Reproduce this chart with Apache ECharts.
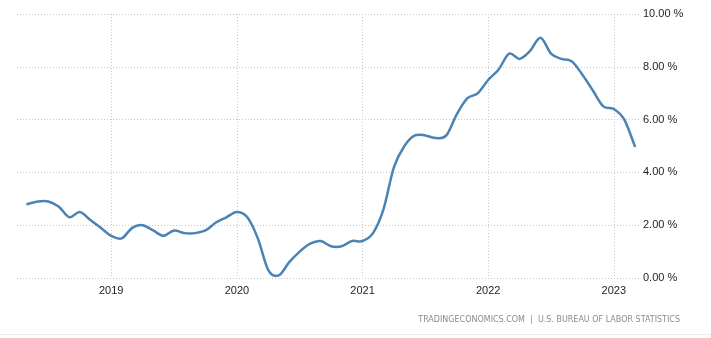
<!DOCTYPE html>
<html>
<head>
<meta charset="utf-8">
<style>
  html, body { margin: 0; padding: 0; background: #fff; }
  #chart { width: 711px; height: 338px; }
</style>
<script src="https://cdn.jsdelivr.net/npm/echarts@6/dist/echarts.min.js"></script>
</head>
<body>
<div id="chart"></div>
<script>
// US consumer price inflation, year over year, monthly
const months = [
  '2018-05','2018-06','2018-07','2018-08','2018-09','2018-10','2018-11','2018-12',
  '2019-01','2019-02','2019-03','2019-04','2019-05','2019-06','2019-07','2019-08','2019-09','2019-10','2019-11','2019-12',
  '2020-01','2020-02','2020-03','2020-04','2020-05','2020-06','2020-07','2020-08','2020-09','2020-10','2020-11','2020-12',
  '2021-01','2021-02','2021-03','2021-04','2021-05','2021-06','2021-07','2021-08','2021-09','2021-10','2021-11','2021-12',
  '2022-01','2022-02','2022-03','2022-04','2022-05','2022-06','2022-07','2022-08','2022-09','2022-10','2022-11','2022-12',
  '2023-01','2023-02','2023-03'
];
const inflation = [
  2.8, 2.9, 2.9, 2.7, 2.3, 2.5, 2.2, 1.9,
  1.6, 1.5, 1.9, 2.0, 1.8, 1.6, 1.8, 1.7, 1.7, 1.8, 2.1, 2.3,
  2.5, 2.3, 1.5, 0.3, 0.1, 0.6, 1.0, 1.3, 1.4, 1.2, 1.2, 1.4,
  1.4, 1.7, 2.6, 4.2, 5.0, 5.4, 5.4, 5.3, 5.4, 6.2, 6.8, 7.0,
  7.5, 7.9, 8.5, 8.3, 8.6, 9.1, 8.5, 8.3, 8.2, 7.7, 7.1, 6.5,
  6.4, 6.0, 5.0
];
const yearTicks = [2019, 2020, 2021, 2022, 2023];
const yTicks = [0, 2, 4, 6, 8, 10];

const BASE_YEAR = 2018;
// month position counted from January of the base year
function monthPos(ym) {
  const [y, m] = ym.split('-').map(Number);
  return (y - BASE_YEAR) * 12 + (m - 1);
}
const seriesData = months.map((m, i) => [monthPos(m), inflation[i]]);
const yearPos = yearTicks.map(y => (y - BASE_YEAR) * 12);
const posToYear = {};
yearTicks.forEach((y, i) => { posToYear[yearPos[i]] = String(y); });

const LINE_COLOR = '#4a83b5';

// Catmull-Rom curve through every data point, mapped with the chart's own axes
function renderCurve(params, api) {
  if (params.dataIndex !== 0) return null;
  const pts = seriesData.map(d => api.coord(d));
  const n = pts.length;
  let path = 'M' + pts[0][0] + ' ' + pts[0][1];
  for (let i = 0; i < n - 1; i++) {
    const p0 = pts[Math.max(i - 1, 0)];
    const p1 = pts[i];
    const p2 = pts[i + 1];
    const p3 = pts[Math.min(i + 2, n - 1)];
    const c1x = p1[0] + (p2[0] - p0[0]) / 6;
    const c1y = p1[1] + (p2[1] - p0[1]) / 6;
    const c2x = p2[0] - (p3[0] - p1[0]) / 6;
    const c2y = p2[1] - (p3[1] - p1[1]) / 6;
    path += ' C' + c1x + ' ' + c1y + ' ' + c2x + ' ' + c2y + ' ' + p2[0] + ' ' + p2[1];
  }
  return {
    type: 'path',
    shape: { pathData: path },
    style: { fill: null, stroke: LINE_COLOR, lineWidth: 2.5, lineJoin: 'round', lineCap: 'round' }
  };
}

const chart = echarts.init(document.getElementById('chart'), null, { renderer: 'canvas' });
chart.setOption({
  backgroundColor: '#ffffff',
  animation: false,
  grid: { left: 17, right: 71, top: 14, bottom: 60 },
  xAxis: {
    type: 'value',
    min: monthPos(months[0]) - 1,
    max: monthPos(months[months.length - 1]) + 0.5,
    axisLine: { show: false },
    axisTick: { show: false, customValues: yearPos },
    axisLabel: {
      customValues: yearPos,
      formatter: v => posToYear[v] || '',
      color: '#1c1c2a',
      fontFamily: 'Liberation Sans, Arial, sans-serif',
      fontSize: 11,
      margin: 7
    },
    splitLine: { show: true, lineStyle: { color: '#c8c8c8', type: [1, 2], width: 1 } }
  },
  yAxis: {
    type: 'value',
    position: 'right',
    min: yTicks[0],
    max: yTicks[yTicks.length - 1],
    interval: 2,
    axisLine: { show: false },
    axisTick: { show: false },
    axisLabel: {
      formatter: v => v.toFixed(2) + ' %',
      color: '#1c1c2a',
      fontFamily: 'Liberation Sans, Arial, sans-serif',
      fontSize: 11,
      margin: 3
    },
    splitLine: { show: true, lineStyle: { color: '#c8c8c8', type: [1, 2], width: 1 } }
  },
  series: [{
    type: 'custom',
    data: seriesData,
    renderItem: renderCurve,
    clip: true,
    encode: { x: 0, y: 1 }
  }],
  graphic: [
    {
      type: 'text',
      right: 31,
      top: 316,
      style: {
        text: 'TRADINGECONOMICS.COM  |  U.S. BUREAU OF LABOR STATISTICS',
        fill: '#8a8a8a',
        font: '8px "DejaVu Sans", Verdana, sans-serif'
      }
    },
    {
      type: 'rect',
      left: 0,
      top: 334,
      shape: { width: 711, height: 1 },
      style: { fill: '#ececec' }
    }
  ]
});
</script>
</body>
</html>
